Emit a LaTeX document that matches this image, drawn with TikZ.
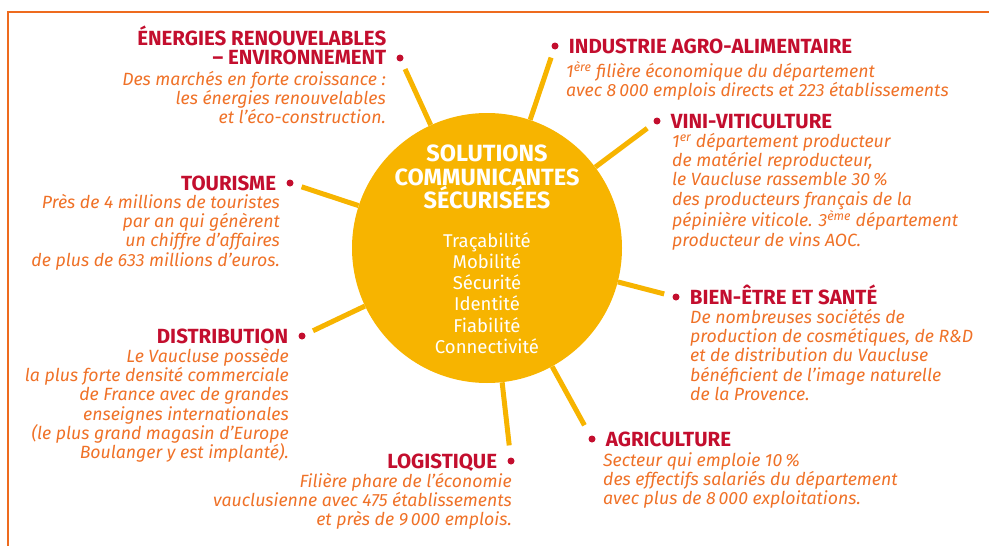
\documentclass[tikz,border=0pt]{standalone}
\usepackage{fontspec}
\setmainfont{Fira Sans}
\usetikzlibrary{positioning}

\definecolor{sunyellow}{HTML}{F7B400}
\definecolor{titlered}{HTML}{C30E2E}
\definecolor{textorange}{HTML}{EF7127}
\definecolor{frameorange}{HTML}{EE6B1E}

\tikzset{
  hub/.style={circle, fill=sunyellow, minimum size=270pt, inner sep=0pt},
  ray/.style={draw=sunyellow, line width=5pt, shorten >=8.5pt},
  bullet/.style={circle, fill=titlered, minimum size=7pt, inner sep=0pt},
  sector/.style={inner sep=0pt, text=titlered, font=\fontsize{20.5}{19}\selectfont\bfseries},
  sectorline/.style={sector, text height=14.1pt, text depth=0pt},
  blurb/.style={inner sep=0pt, text=textorange, font=\fontsize{17.7}{19.3}\selectfont\itshape},
  hubhead/.style={inner sep=0pt, text=white, align=center, font=\fontsize{23.5}{23.5}\selectfont\bfseries},
  hublist/.style={inner sep=0pt, text=white, align=center, font=\fontsize{18.5}{21.2}\selectfont}
}

\begin{document}
\begin{tikzpicture}[x=1pt, y=-1pt]
\useasboundingbox (0,0) rectangle (989,546);

\draw[frameorange, line width=2.5pt] (8,546) -- (8,12) -- (989,12);

\node[hub] (hub) at (487,248) {};

\node[bullet] (dotE) at (400,58) {};
\node[bullet] (dotI) at (555,46) {};
\node[bullet] (dotV) at (657,121) {};
\node[bullet] (dotT) at (290,183) {};
\node[bullet] (dotB) at (676,297) {};
\node[bullet] (dotD) at (302,336) {};
\node[bullet] (dotL) at (511,461) {};
\node[bullet] (dotA) at (592,439) {};

\draw[ray] (hub) -- (dotE);
\draw[ray] (hub) -- (dotI);
\draw[ray] (hub) -- (dotV);
\draw[ray] (hub) -- (dotT);
\draw[ray] (hub) -- (dotB);
\draw[ray] (hub) -- (dotD);
\draw[ray, shorten >=12pt] (hub) -- (dotL);
\draw[ray, shorten >=12pt] (hub) -- (dotA);

\node[hubhead] (hubhead) at (487,177) { SOLUTIONS\\COMMUNICANTES\\SÉCURISÉES };
\node[hublist] (hublist) at (487,293) { Traçabilité\\Mobilité\\Sécurité\\Identité\\Fiabilité\\Connectivité };

\node[sector, align=right, anchor=south east] (titleE) at ([xshift=-13.5pt, yshift=-7pt]dotE.center) { ÉNERGIES RENOUVELABLES\\– ENVIRONNEMENT };
\node[sectorline, right=10pt of dotI] (titleI) { INDUSTRIE AGRO-ALIMENTAIRE };
\node[sectorline, right=10pt of dotV] (titleV) { VINI-VITICULTURE };
\node[sectorline, left=10pt of dotT] (titleT) { TOURISME };
\node[sectorline, right=10pt of dotB] (titleB) { BIEN-ÊTRE ET SANTÉ };
\node[sectorline, left=10pt of dotD] (titleD) { DISTRIBUTION };
\node[sectorline, left=10pt of dotL] (titleL) { LOGISTIQUE };
\node[sectorline, right=10pt of dotA] (titleA) { AGRICULTURE };

\node[blurb, anchor=north east, align=right] (textE) at (386,71) { Des marchés en forte croissance :\\les énergies renouvelables\\et l'éco-construction. };
\node[blurb, anchor=north west, align=left] (textI) at (566,61) { 1\textsuperscript{ère} filière économique du département\\avec 8\,000 emplois directs et 223 établissements };
\node[blurb, anchor=north west, align=left] (textV) at (672,133) { 1\textsuperscript{er} département producteur\\de matériel reproducteur,\\le Vaucluse rassemble 30\,\%\\des producteurs français de la\\pépinière viticole. 3\textsuperscript{ème} département\\producteur de vins AOC. };
\node[blurb, anchor=north east, align=right] (textT) at (280,194) { Près de 4 millions de touristes\\par an qui génèrent\\un chiffre d'affaires\\de plus de 633 millions d'euros. };
\node[blurb, anchor=north west, align=left] (textB) at (690,309) { De nombreuses sociétés de\\production de cosmétiques, de R\&D\\et de distribution du Vaucluse\\bénéficient de l'image naturelle\\de la Provence. };
\node[blurb, anchor=north east, align=right] (textD) at (289,348) { Le Vaucluse possède\\la plus forte densité commerciale\\de France avec de grandes\\enseignes internationales\\(le plus grand magasin d'Europe\\Boulanger y est implanté). };
\node[blurb, anchor=north east, align=right] (textL) at (512,473) { Filière phare de l'économie\\vauclusienne avec 475 établissements\\et près de 9\,000 emplois. };
\node[blurb, anchor=north west, align=left] (textA) at (603,452) { Secteur qui emploie 10\,\%\\des effectifs salariés du département\\avec plus de 8\,000 exploitations. };
\end{tikzpicture}
\end{document}
